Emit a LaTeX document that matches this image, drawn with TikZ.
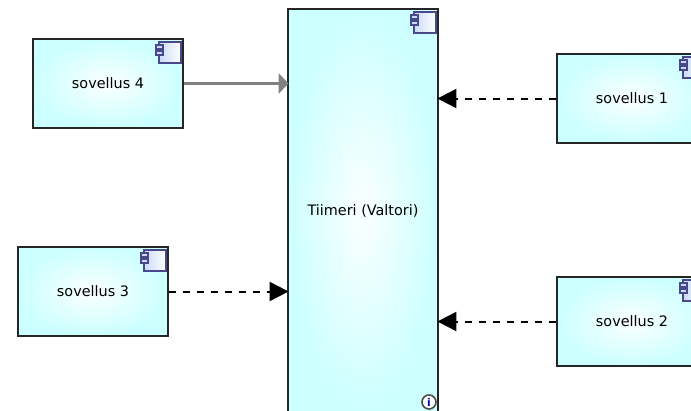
\documentclass[tikz,border=0pt]{standalone}
\usepackage{fontspec}
\setmainfont{DejaVu Sans}
\usetikzlibrary{arrows.meta}
\definecolor{boxcyan}{HTML}{CCFFFF}
\definecolor{boxglow}{HTML}{FBFFFF}
\definecolor{iconline}{HTML}{48488A}
\definecolor{iconfill}{HTML}{C8DAF6}
\tikzset{
	appbox/.style={draw=black!85,line width=1.1pt,inner color=boxglow,outer color=boxcyan,minimum width=112.5pt,minimum height=66.75pt,inner sep=0pt,font=\fontsize{10.8pt}{12pt}\selectfont},
	depline/.style={black,line width=1.5pt,dash pattern=on 5.5pt off 5pt,shorten >=-1pt,-{Triangle[length=14.25pt,width=14.25pt]}},
	grayline/.style={black!50,line width=1.6pt,shorten >=-1pt,-{Triangle[length=7.5pt,width=15pt]}},
	iconpart/.style={draw=iconline,line width=1.3pt},
	compicon/.pic={
		\draw[iconpart,left color=iconfill,right color=white] (-25,4) rectangle (-3,25);
		\draw[iconpart,fill=iconfill] (-28,7) rectangle (-21,11);
		\draw[iconpart,fill=iconfill] (-28,12.5) rectangle (-21,17);
	}
}
\begin{document}
\begin{tikzpicture}[x=0.75pt,y=-0.75pt]
	\clip (0,0) rectangle (691,410);
	\node[appbox,minimum height=303pt] (tiimeri) at (363,211) {Tiimeri (Valtori)};
	\node[appbox] (sov4) at (108,83.5) {sovellus 4};
	\node[appbox] (sov3) at (93,291.5) {sovellus 3};
	\node[appbox] (sov1) at (632,98.5) {sovellus 1};
	\node[appbox] (sov2) at (632,321.5) {sovellus 2};

	%component icons
	\pic at (tiimeri.north east) {compicon};
	\pic at (sov4.north east) {compicon};
	\pic at (sov3.north east) {compicon};
	\pic at (sov1.north east) {compicon};
	\pic at (sov2.north east) {compicon};

	%info mark
	\node[circle,draw=black!70,fill=white,line width=1.2pt,minimum size=10.5pt,inner sep=0pt,text=blue!70!black,font=\fontsize{8pt}{8pt}\selectfont\bfseries] (info) at (429,402) {i};

	\draw[grayline] (sov4.east) -- (sov4.east -| tiimeri.west);
	\draw[depline] (sov3.east) -- (sov3.east -| tiimeri.west);
	\draw[depline] (sov1.west) -- (sov1.west -| tiimeri.east);
	\draw[depline] (sov2.west) -- (sov2.west -| tiimeri.east);
\end{tikzpicture}
\end{document}
